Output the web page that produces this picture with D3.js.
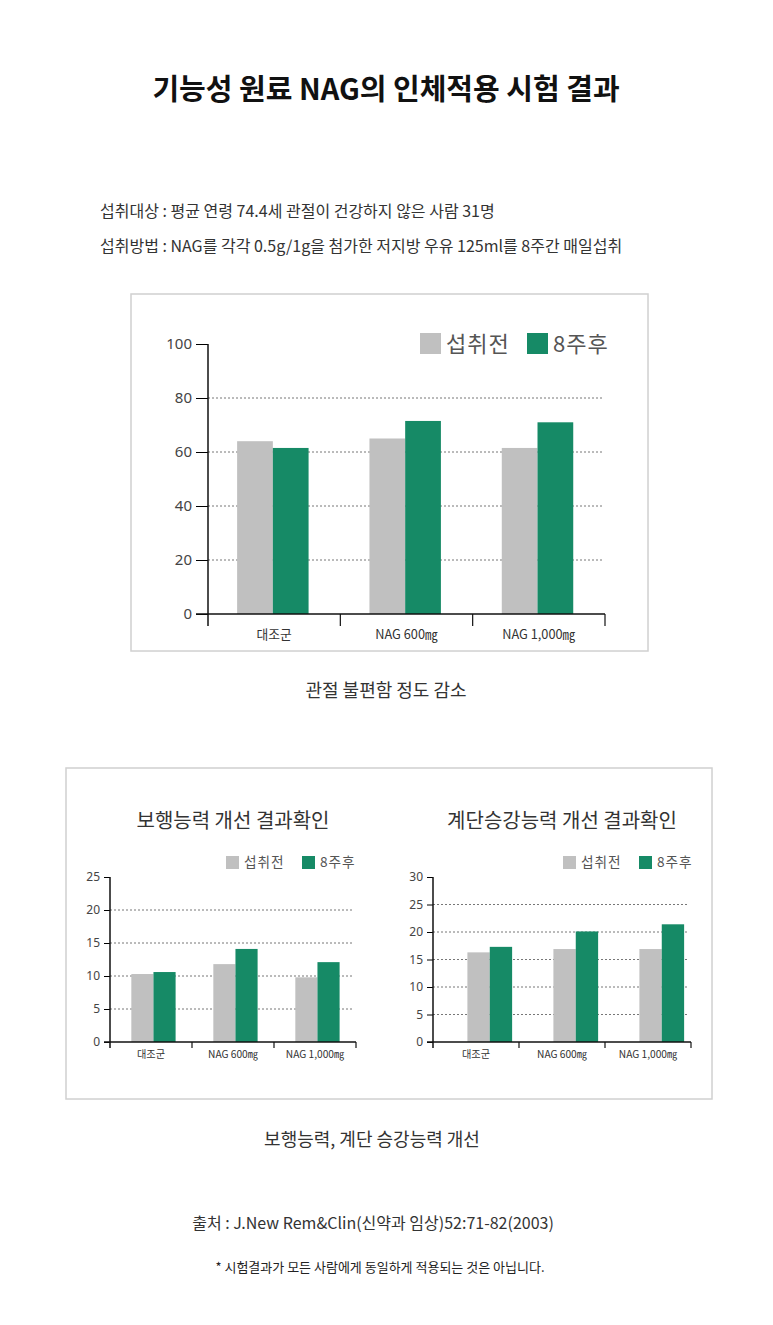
<!DOCTYPE html><html><head><meta charset="utf-8"><script src="https://cdn.jsdelivr.net/npm/d3@7"></script>
<style>body{margin:0;background:#fff;font-family:"Noto Sans CJK KR","Noto Sans",sans-serif}</style></head><body><svg id="s" width="773" height="1325"></svg>
<script>
const categories=["대조군","NAG 600㎎","NAG 1,000㎎"];
const seriesNames=["섭취전","8주후"];
const colors=["#c0c0c0","#168a66"];
const joint=[[64,61.5],[65,71.5],[61.5,71]];
const walk=[[10.3,10.6],[11.8,14.1],[9.8,12.1]];
const stair=[[16.3,17.3],[16.9,20.1],[16.9,21.4]];
const svg=d3.select("#s");
const T=(x,y,t,o={})=>svg.append("text").attr("x",x).attr("y",y).text(t).attr("text-anchor",o.a||"middle").attr("font-size",o.s||16).attr("font-weight",o.w||400).attr("fill",o.c||"#333");
T(386,100,"기능성 원료 NAG의 인체적용 시험 결과",{s:29,w:700,c:"#111"});
T(100,217,"섭취대상 : 평균 연령 74.4세 관절이 건강하지 않은 사람 31명",{a:"start",s:16});
T(100,252,"섭취방법 : NAG를 각각 0.5g/1g을 첨가한 저지방 우유 125ml를 8주간 매일섭취",{a:"start",s:16});
svg.append("rect").attr("x",131).attr("y",294).attr("width",517).attr("height",357).attr("fill","none").attr("stroke","#d0d0d0").attr("stroke-width",1.5);
svg.append("rect").attr("x",66).attr("y",768).attr("width",646).attr("height",331).attr("fill","none").attr("stroke","#d0d0d0").attr("stroke-width",1.5);
T(386,697,"관절 불편함 정도 감소",{s:18});
T(372,1146,"보행능력, 계단 승강능력 개선",{s:18});
T(373,1229,"출처 : J.New Rem&Clin(신약과 임상)52:71-82(2003)",{s:16});
T(380,1272,"* 시험결과가 모든 사람에게 동일하게 적용되는 것은 아닙니다.",{s:13,c:"#222"});
function chart(o){
  const y=d3.scaleLinear().domain([0,o.max]).range([o.y0,o.y1]);
  const x=d3.scaleBand().domain(categories).range([o.x0,o.x1]);
  const g=svg.append("g");
  o.ticks.slice(1).forEach(t=>{ if(t<o.max) g.append("line").attr("x1",o.x0).attr("x2",o.x1-3).attr("y1",y(t)).attr("y2",y(t)).attr("stroke","#777").attr("stroke-dasharray","2,2").attr("stroke-width",1);});
  o.data.forEach((d,i)=>d.forEach((v,j)=>{
    g.append("rect").attr("x",x(categories[i])+x.bandwidth()*(o.pad)+j*x.bandwidth()*o.bw).attr("width",x.bandwidth()*o.bw).attr("y",y(v)).attr("height",y(0)-y(v)).attr("fill",colors[j]);
  }));
  g.append("g").attr("transform",`translate(${o.x0},0)`).call(d3.axisLeft(y).tickValues(o.ticks).tickSize(o.tk).tickPadding(4)).call(a=>{a.select(".domain").remove();a.selectAll("text").attr("font-size",o.fs).attr("fill","#444").attr("font-family","Noto Sans");});
  g.append("line").attr("x1",o.x0).attr("x2",o.x0).attr("y1",y(o.max)).attr("y2",y(0)+o.tk).attr("stroke","#111").attr("stroke-width",1.5);
  g.append("line").attr("x1",o.x0-o.tk).attr("x2",o.x1).attr("y1",y(0)).attr("y2",y(0)).attr("stroke","#111").attr("stroke-width",1.5);
  categories.forEach((c,i)=>{const xx=x(c)+x.bandwidth();g.append("line").attr("x1",xx).attr("x2",xx).attr("y1",y(0)).attr("y2",y(0)+o.tk).attr("stroke","#111").attr("stroke-width",1.2);
    g.append("text").attr("x",x(c)+x.bandwidth()/2).attr("y",y(0)+o.lab).attr("text-anchor","middle").attr("font-size",o.fs*0.85).attr("fill","#333").text(c);});
  seriesNames.forEach((n,j)=>{const lx=o.leg[j];g.append("rect").attr("x",lx).attr("y",o.ly).attr("width",o.ls).attr("height",o.ls).attr("fill",colors[j]);
    g.append("text").attr("x",lx+o.ls+5).attr("y",o.ly+o.ls-2).attr("font-size",o.ls*1.05).attr("fill","#555").attr("letter-spacing",1).text(n);});
  if(o.title) T((o.x0+o.x1)/2,o.ty,o.title,{s:20,c:"#333"});
}
chart({data:joint,max:100,ticks:[0,20,40,60,80,100],x0:208,x1:605,y0:614,y1:344,pad:0.22,bw:0.27,tk:12,fs:15,lab:25,leg:[420,527],ly:333,ls:21});
chart({data:walk,max:25,ticks:[0,5,10,15,20,25],x0:110,x1:356,y0:1042,y1:877,pad:0.26,bw:0.27,tk:6,fs:12,lab:16,leg:[226,302],ly:856,ls:13,title:"보행능력 개선 결과확인",ty:828});
chart({data:stair,max:30,ticks:[0,5,10,15,20,25,30],x0:433,x1:691,y0:1042,y1:877,pad:0.4,bw:0.26,tk:6,fs:12,lab:16,leg:[563,639],ly:856,ls:13,title:"계단승강능력 개선 결과확인",ty:828});
</script></body></html>
